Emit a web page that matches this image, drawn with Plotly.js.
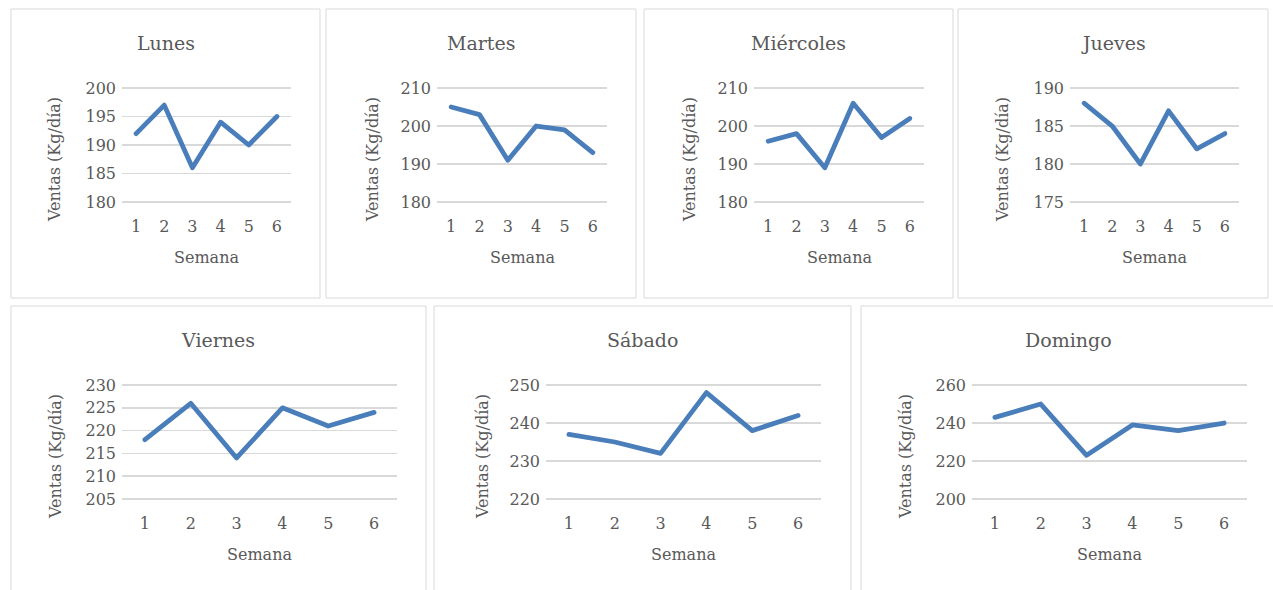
<!DOCTYPE html>
<html><head><meta charset="utf-8">
<script src="https://cdn.plot.ly/plotly-3.0.1.min.js"></script>
<style>
html,body{margin:0;padding:0;background:#fff;}
#chart{width:1273px;height:590px;}
.scatterlayer path.js-line{stroke-linejoin:round;stroke-linecap:round;}
</style></head>
<body><div id="chart"></div>
<script>
const semanas = [1, 2, 3, 4, 5, 6];
const dias = ["Lunes", "Martes", "Miércoles", "Jueves", "Viernes", "Sábado", "Domingo"];
const lunes = [192, 197, 186, 194, 190, 195];
const martes = [205, 203, 191, 200, 199, 193];
const miercoles = [196, 198, 189, 206, 197, 202];
const jueves = [188, 185, 180, 187, 182, 184];
const viernes = [218, 226, 214, 225, 221, 224];
const sabado = [237, 235, 232, 248, 238, 242];
const domingo = [243, 250, 223, 239, 236, 240];
const yMin = [180, 180, 180, 175, 205, 220, 200];
const yMax = [200, 210, 210, 190, 230, 250, 260];
const yStep = [5, 10, 10, 5, 5, 10, 20];
const xTitle = "Semana";
const yTitle = "Ventas (Kg/día)";
const series = [lunes, martes, miercoles, jueves, viernes, sabado, domingo];

const W = 1273, H = 590;
// layout geometry in pixels (positions only)
const plotBoxes = [
  [122, 291, 88, 202], [437, 607, 88, 202], [754, 924, 88, 202], [1070, 1239, 88, 202],
  [122, 397, 385, 499], [546, 821, 385, 499], [972, 1247, 385, 499]
];
const panels = [
  [11, 320, 9, 298], [326, 636, 9, 298], [644, 953, 9, 298], [958, 1268, 9, 298],
  [11, 426, 306, 600], [434, 851, 306, 600], [861, 1280, 306, 600]
];
const titleX = [166, 481, 798, 1113, 218, 642, 1068];
const yTitleX = [55, 373, 690, 1003, 55, 482, 905];

const gray = "#595959";
const fontFam = "DejaVu Serif, Liberation Serif, serif";
const px = v => v / W, py = v => 1 - v / H;
const padPx = 1.5;

const data = [];
const layout = {
  width: W, height: H, margin: {l: 0, r: 0, t: 0, b: 0},
  paper_bgcolor: "#fff", plot_bgcolor: "#fff", showlegend: false,
  font: {family: fontFam, color: gray, size: 16},
  shapes: [], annotations: []
};

series.forEach((vals, i) => {
  const n = i + 1;
  const xa = "xaxis" + (n === 1 ? "" : n), ya = "yaxis" + (n === 1 ? "" : n);
  const b = plotBoxes[i], p = panels[i];
  const pad = (yMax[i] - yMin[i]) * padPx / (b[3] - b[2] - 2 * padPx);
  data.push({
    type: "scatter", mode: "lines", x: semanas, y: vals,
    xaxis: "x" + (n === 1 ? "" : n), yaxis: "y" + (n === 1 ? "" : n),
    line: {color: "#4a7ebb", width: 4.8}, hoverinfo: "x+y"
  });
  layout[xa] = {
    domain: [px(b[0]), px(b[1])], anchor: "y" + (n === 1 ? "" : n),
    range: [0.5, 6.5], tickmode: "array", tickvals: semanas, ticktext: semanas.map(String),
    showgrid: false, zeroline: false, showline: false, ticks: "",
    ticklabelstandoff: 11, tickfont: {family: fontFam, size: 16, color: gray}, fixedrange: true
  };
  layout[ya] = {
    domain: [py(b[3] + padPx), py(b[2] - padPx)], anchor: "x" + (n === 1 ? "" : n),
    range: [yMin[i] - pad, yMax[i] + pad], tick0: yMin[i], dtick: yStep[i],
    showgrid: true, gridcolor: "#d9d9d9", gridwidth: 1.4, zeroline: false, showline: false, ticks: "",
    ticklabelstandoff: 5, tickfont: {family: fontFam, size: 16, color: gray}, fixedrange: true
  };
  layout.shapes.push({type: "rect", xref: "paper", yref: "paper",
    x0: px(p[0]), x1: px(p[1]), y0: py(p[3]), y1: py(p[2]),
    line: {color: "#d9d9d9", width: 1}, fillcolor: "rgba(0,0,0,0)", layer: "below"});
  const top = i < 4 ? 0 : 297;
  layout.annotations.push({text: dias[i], xref: "paper", yref: "paper",
    x: px(titleX[i]), y: py(top + 43), xanchor: "center", yanchor: "middle", showarrow: false,
    font: {family: fontFam, size: 19, color: gray}});
  layout.annotations.push({text: xTitle, xref: "paper", yref: "paper",
    x: px((b[0] + b[1]) / 2), y: py(top + 257), xanchor: "center", yanchor: "middle", showarrow: false,
    font: {family: fontFam, size: 16, color: gray}});
  layout.annotations.push({text: yTitle, xref: "paper", yref: "paper", textangle: -90,
    x: px(yTitleX[i]), y: py(top + 160), xanchor: "center", yanchor: "middle", showarrow: false,
    font: {family: fontFam, size: 16, color: gray}});
});

Plotly.newPlot("chart", data, layout, {displayModeBar: false, staticPlot: true});
</script></body></html>
